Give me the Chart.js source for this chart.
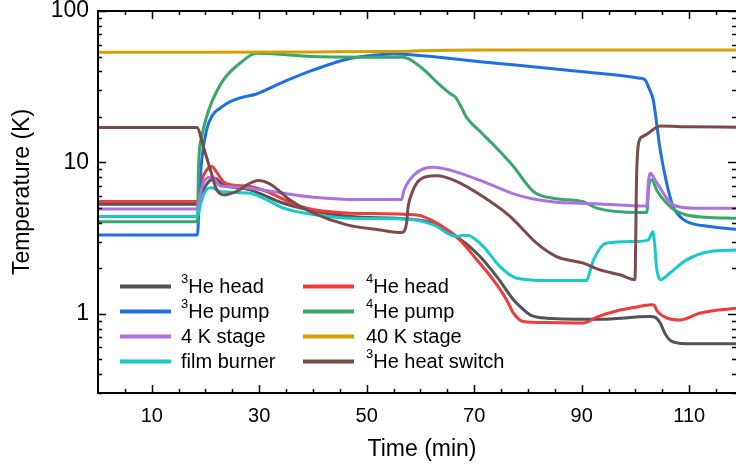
<!DOCTYPE html>
<html>
<head>
<meta charset="utf-8">
<script src="https://cdn.jsdelivr.net/npm/chart.js@4/dist/chart.umd.min.js"></script>
<style>
body{margin:0;background:#fff}
</style>
</head>
<body>
<canvas id="myChart" width="736" height="468"></canvas>
<script>
// time (min) / temperature (K), one pair per sensor
var h3T = [0, 18.5, 19.3, 20.5, 21.8, 23, 28.3, 34.5, 40.7, 46.9, 58, 62.4, 66.7, 70.5, 74.2, 77.3, 78.5, 80.4, 83.5, 93.4, 102.7, 103.6, 104.6, 105.5, 106.4, 107.5, 109.5, 118.7];
var h3K = [5.3, 5.3, 6.3, 7.4, 7.87, 7.2, 6.58, 5.37, 4.74, 4.39, 4.22, 3.95, 3.24, 2.51, 1.76, 1.24, 1.12, 0.985, 0.936, 0.92, 0.96, 0.95, 0.87, 0.74, 0.67, 0.645, 0.634, 0.634];

var h4T = [0, 18.5, 19.2, 20.2, 21.2, 22, 23.3, 25, 28.3, 31.4, 37.6, 46.9, 59.3, 63.6, 67.3, 70.5, 73.5, 76, 77.3, 79.1, 83.5, 90.3, 92.8, 97.1, 99.6, 103, 103.5, 103.9, 105.8, 108.3, 111.9, 118.7];
var h4K = [5.51, 5.51, 7.5, 8.9, 9.4, 8.7, 7.47, 7.1, 6.93, 6.42, 5.11, 4.62, 4.5, 3.87, 3.08, 2.27, 1.68, 1.24, 1.01, 0.89, 0.876, 0.87, 0.95, 1.06, 1.1, 1.15, 1.14, 1.06, 0.94, 0.91, 1.01, 1.09];

var p3T = [0, 18.5, 18.9, 19.3, 20.2, 21.3, 22.7, 24.6, 27, 29.5, 33.9, 40.1, 46.3, 51.8, 55, 58.7, 71.1, 89.7, 100.8, 101.8, 102.5, 103.3, 104.6, 105.8, 107, 108, 109.5, 113.9, 118.7];
var p3K = [3.32, 3.32, 6.5, 10.4, 16.4, 20.5, 22.8, 25.2, 27, 28.3, 33.3, 40.8, 48, 51.2, 52, 51.3, 46.3, 39.8, 36, 35, 31, 25.9, 12.1, 7.3, 5.1, 4.5, 4.07, 3.77, 3.62];

var p4T = [0, 18.5, 18.7, 19.3, 20.2, 21.2, 23.3, 26.4, 29.5, 35, 40.1, 52.5, 56.8, 59.9, 63.6, 65.5, 66.5, 67.5, 68.5, 71.1, 74.2, 77.3, 81, 84.7, 90.3, 92.8, 100.8, 102.1, 102.5, 103, 104, 105.8, 107.5, 109.5, 113, 118.7];
var p4K = [4.06, 4.06, 9.4, 14.8, 20, 25.2, 35, 45.2, 52.6, 51.5, 50, 49.5, 49.5, 43, 32.5, 28.5, 27, 23.5, 20, 16, 12.4, 9.4, 6.42, 5.8, 5.5, 4.99, 4.67, 4.67, 7, 7.67, 6.5, 5.38, 4.8, 4.5, 4.35, 4.28];

var s4T = [0, 18.4, 18.8, 19.6, 20.8, 21.5, 22.7, 25, 28.3, 34.5, 40.7, 46.9, 56.5, 56.9, 58, 60, 62.4, 65.5, 71.7, 77.9, 84.1, 93.4, 102.1, 102.4, 102.8, 103.5, 104.6, 105.8, 107, 110.7, 118.7];
var s4K = [4.93, 4.93, 5.6, 7.3, 7.98, 7.9, 7.0, 6.9, 6.76, 6.26, 5.86, 5.7, 5.7, 6.5, 7.66, 8.9, 9.3, 8.9, 7.47, 6.1, 5.51, 5.32, 5.16, 7.5, 8.49, 7.8, 6.76, 5.8, 5.24, 4.99, 4.99];

var s40T = [0, 20, 40, 55, 60, 70, 90, 118.7];
var s40K = [53.5, 53.5, 53.7, 54, 54.6, 55.2, 55.3, 55.3];

var fbT = [0, 18.5, 18.9, 19.3, 20.5, 21.2, 22.7, 28.3, 31.4, 34.5, 40.7, 46.9, 58, 62.4, 66.7, 68, 69.2, 70.2, 71.7, 74.8, 77.9, 84.1, 90.9, 91.5, 92.2, 94.6, 99.6, 102.4, 103.2, 103.6, 103.9, 104.6, 106.4, 109.5, 113.9, 118.7];
var fbK = [4.39, 4.39, 5.0, 5.65, 6.76, 6.8, 6.42, 6.26, 5.65, 4.99, 4.5, 4.28, 4.22, 3.87, 3.24, 3.3, 3.27, 3.1, 2.78, 2.05, 1.72, 1.66, 1.66, 1.9, 2.27, 2.93, 3.0, 3.08, 3.49, 2.8, 2.05, 1.68, 1.86, 2.27, 2.58, 2.64];

var hsT = [0, 18.4, 19.6, 20.8, 22.1, 23.6, 26, 28, 29.8, 32, 35.7, 40.1, 46.3, 52.5, 56.5, 57.4, 57.7, 58.4, 59.3, 61.2, 63, 66.7, 71.6, 76.7, 81.6, 85.3, 90.3, 93.4, 97.1, 99.9, 100.2, 100.6, 101.3, 102.4, 103.3, 104.6, 110, 118.7];
var hsK = [17, 17, 12.7, 9.2, 6.6, 6.1, 6.5, 7.2, 7.6, 7.2, 5.65, 4.62, 3.87, 3.58, 3.44, 3.97, 5.1, 6.27, 7.3, 8.07, 8.15, 7.5, 5.95, 4.39, 2.93, 2.39, 2.16, 1.95, 1.81, 1.68, 8, 13.5, 14.8, 15.6, 16.5, 17.4, 17.2, 17.1];

var xLabels = [10, 30, 50, 70, 90, 110];
var yLabels = [1, 10, 100];

function pts(t, k){
    return t.map(function(x, i){ return {x: x, y: k[i]}; });
}

var series = [
    ['\u00b3He head', h3T, h3K, '#535353'],
    ['\u2074He head', h4T, h4K, '#EE3B3B'],
    ['\u00b3He pump', p3T, p3K, '#1F6FE0'],
    ['\u2074He pump', p4T, p4K, '#38A869'],
    ['4 K stage', s4T, s4K, '#AE72E0'],
    ['40 K stage', s40T, s40K, '#D4A000'],
    ['film burner', fbT, fbK, '#19C8C8'],
    ['\u00b3He heat switch', hsT, hsK, '#7B4B4B']
];

var FONT = '"Liberation Sans", Arial, sans-serif';

//inward ticks, frame, axis titles, legend
var frame = {
    id: 'frame',
    afterDraw: function(chart){
        var ctx = chart.ctx, a = chart.chartArea, xs = chart.scales.x, ys = chart.scales.y;
        ctx.save();
        ctx.strokeStyle = '#000';
        ctx.lineWidth = 2;
        ctx.beginPath();
        ctx.moveTo(a.right, a.top); ctx.lineTo(a.left, a.top);
        ctx.lineTo(a.left, a.bottom); ctx.lineTo(a.right, a.bottom);
        ctx.stroke();

        ctx.lineWidth = 1.5;
        ctx.beginPath();
        for (var v = 5; v < xs.max; v += 5) {
            var px = Math.round(xs.getPixelForValue(v)) + 0.5;
            var len = xLabels.indexOf(v) >= 0 ? 8 : 4;
            ctx.moveTo(px, a.bottom); ctx.lineTo(px, a.bottom - len);
            ctx.moveTo(px, a.top); ctx.lineTo(px, a.top + len);
        }
        for (var d = 0.1; d < 200; d *= 10) {
            for (var m = 1; m < 10; m++) {
                var val = d * m;
                if (val < ys.min || val > ys.max) continue;
                var py = Math.round(ys.getPixelForValue(val)) + 0.5;
                var l = m === 1 ? 8 : 4;
                ctx.moveTo(a.left, py); ctx.lineTo(a.left + l, py);
                ctx.moveTo(a.right, py); ctx.lineTo(a.right - l, py);
            }
        }
        ctx.stroke();

        ctx.fillStyle = '#000';
        ctx.font = '23px ' + FONT;
        ctx.textAlign = 'center';
        ctx.textBaseline = 'middle';
        ctx.fillText('Time (min)', 422, 450);
        ctx.save();
        ctx.translate(23, 192);
        ctx.rotate(-Math.PI / 2);
        ctx.fillText('Temperature (K)', 0, 0);
        ctx.restore();

        // legend, two columns
        ctx.textAlign = 'left';
        chart.data.datasets.forEach(function(ds, i){
            var col = i % 2, row = Math.floor(i / 2);
            var lx = col ? 303 : 120, tx = col ? 366 : 181;
            var y = 286.5 + row * 25;
            ctx.strokeStyle = ds.borderColor;
            ctx.lineWidth = 4;
            ctx.beginPath();
            ctx.moveTo(lx, y); ctx.lineTo(lx + 51, y);
            ctx.stroke();
            var label = ds.label, sup = '';
            if (label[0] === '\u00b3') sup = '3';
            if (label[0] === '\u2074') sup = '4';
            ctx.fillStyle = '#000';
            if (sup) {
                ctx.font = '13px ' + FONT;
                ctx.fillText(sup, tx, y - 7);
                tx += ctx.measureText(sup).width;
                label = label.slice(1);
            }
            ctx.font = '20px ' + FONT;
            ctx.fillText(label, tx, y + 1);
        });
        ctx.restore();
    }
};

var ctx = document.getElementById('myChart');
var chart = new Chart(ctx, {
    type: 'line',
    data: {
        datasets: series.map(function(s, i){
            return {
                label: s[0],
                data: pts(s[1], s[2]),
                borderColor: s[3],
                backgroundColor: s[3],
                borderWidth: 3,
                pointRadius: 0,
                cubicInterpolationMode: 'monotone',
                order: series.length - i
            };
        })
    },
    options: {
        responsive: false,
        animation: false,
        devicePixelRatio: 1,
        layout: {padding: {top: 11, right: 0, bottom: 0, left: 0}},
        plugins: {legend: {display: false}, tooltip: {enabled: false}},
        scales: {
            x: {
                type: 'linear',
                min: 0,
                max: 118.7,
                grid: {display: false, drawTicks: false},
                border: {display: false},
                afterBuildTicks: function(s){ s.ticks = xLabels.map(function(v){ return {value: v}; }); },
                afterFit: function(s){ s.height = 75; s.paddingLeft = 0; s.paddingRight = 0; },
                ticks: {color: '#000', padding: 11, font: {family: FONT, size: 20}}
            },
            y: {
                type: 'logarithmic',
                min: 0.3,
                max: 100,
                grid: {display: false, drawTicks: false},
                border: {display: false},
                afterBuildTicks: function(s){ s.ticks = yLabels.map(function(v){ return {value: v}; }); },
                afterFit: function(s){ s.width = 98; s.paddingTop = 0; s.paddingBottom = 0; },
                ticks: {
                    color: '#000', padding: 9, font: {family: FONT, size: 23},
                    callback: function(v){ return String(v); }
                }
            }
        }
    },
    plugins: [frame]
});
</script>
</body>
</html>
